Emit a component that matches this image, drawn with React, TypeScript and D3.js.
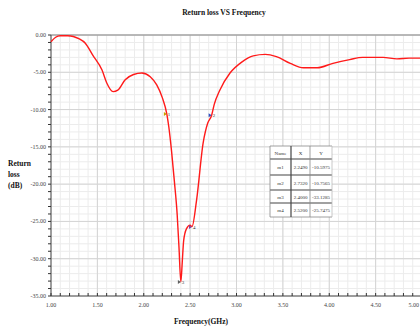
import { useEffect, useRef } from "react"
import * as d3 from "d3"

// curve (GHz, dB)
const freq = [1.0, 1.05, 1.1, 1.18, 1.24, 1.3, 1.37, 1.45, 1.55, 1.6, 1.67, 1.72, 1.8, 1.89, 1.98, 2.07, 2.14, 2.2, 2.249, 2.27, 2.3, 2.33, 2.36, 2.38, 2.4, 2.415, 2.43, 2.46, 2.5, 2.52, 2.57, 2.64, 2.69, 2.732, 2.76, 2.82, 2.93, 3.06, 3.18, 3.31, 3.43, 3.58, 3.72, 3.87, 4.04, 4.22, 4.36, 4.58, 4.73, 4.86, 5.0]
const returnLoss = [-0.9, -0.3, -0.1, -0.1, -0.2, -0.5, -1.1, -2.7, -4.7, -6.4, -7.6, -7.4, -6.0, -5.3, -5.1, -5.6, -6.7, -8.4, -10.6, -12.3, -15.6, -19.6, -24.0, -28.5, -33.1, -30.5, -27.6, -26.0, -25.5, -25.7, -22.1, -14.5, -11.8, -10.76, -9.3, -7.4, -5.1, -3.6, -2.8, -2.6, -2.9, -3.8, -4.4, -4.4, -3.8, -3.3, -3.0, -3.0, -3.2, -3.1, -3.1]

const markerNames = ["m1", "m2", "m3", "m4"]
const markerX = [2.249, 2.732, 2.4, 2.52]
const markerY = [-10.5975, -10.7565, -33.1285, -25.7475]
const markerColors = ["#c8a000", "#3050c0", "#606060", "#8040a0"]

const yTicks = [0, -5, -10, -15, -20, -25, -30, -35]
const xTicks = [1.0, 1.5, 2.0, 2.5, 3.0, 3.5, 4.0, 4.5, 5.0]

const W = 420
const H = 329
const serif = "'Liberation Serif', 'DejaVu Serif', serif"

export default function App() {
  const ref = useRef<SVGSVGElement>(null)

  useEffect(() => {
    const svg = d3.select(ref.current)
    svg.selectAll("*").remove()

    const x = d3.scaleLinear().domain([1, 5]).range([51, 422])
    const y = d3.scaleLinear().domain([0, -35]).range([35, 296])

    const g = svg.append("g")

    // minor grid
    g.selectAll(".vmin")
      .data(d3.range(1, 5.001, 0.1))
      .enter()
      .append("line")
      .attr("x1", (d) => x(d))
      .attr("x2", (d) => x(d))
      .attr("y1", y(0))
      .attr("y2", y(-35))
      .attr("stroke", "#ececec")
      .attr("stroke-width", 1)
    g.selectAll(".hmin")
      .data(d3.range(0, -35.001, -1))
      .enter()
      .append("line")
      .attr("x1", x(1))
      .attr("x2", W)
      .attr("y1", (d) => y(d))
      .attr("y2", (d) => y(d))
      .attr("stroke", "#ececec")
      .attr("stroke-width", 1)
    // major grid
    g.selectAll(".vmaj")
      .data(xTicks)
      .enter()
      .append("line")
      .attr("x1", (d) => x(d))
      .attr("x2", (d) => x(d))
      .attr("y1", y(0))
      .attr("y2", y(-35))
      .attr("stroke", "#d4d4d4")
      .attr("stroke-width", 1)
    g.selectAll(".hmaj")
      .data(yTicks)
      .enter()
      .append("line")
      .attr("x1", x(1))
      .attr("x2", W)
      .attr("y1", (d) => y(d))
      .attr("y2", (d) => y(d))
      .attr("stroke", "#d4d4d4")
      .attr("stroke-width", 1)

    // frame
    g.append("line")
      .attr("x1", x(1)).attr("x2", W)
      .attr("y1", y(0)).attr("y2", y(0))
      .attr("stroke", "#8a8a8a")
    g.append("line")
      .attr("x1", x(1)).attr("x2", W)
      .attr("y1", y(-35)).attr("y2", y(-35))
      .attr("stroke", "#555")
    g.append("line")
      .attr("x1", x(1)).attr("x2", x(1))
      .attr("y1", y(0)).attr("y2", y(-35))
      .attr("stroke", "#555")

    // axis ticks
    g.selectAll(".ytk")
      .data(d3.range(0, -35.001, -1))
      .enter()
      .append("line")
      .attr("x1", x(1) - 3)
      .attr("x2", x(1))
      .attr("y1", (d) => y(d))
      .attr("y2", (d) => y(d))
      .attr("stroke", "#333")
    g.selectAll(".xtk")
      .data(d3.range(1, 5.001, 0.1))
      .enter()
      .append("line")
      .attr("x1", (d) => x(d))
      .attr("x2", (d) => x(d))
      .attr("y1", y(-35))
      .attr("y2", y(-35) - 3)
      .attr("stroke", "#333")

    g.selectAll(".ylab")
      .data(yTicks)
      .enter()
      .append("text")
      .attr("x", x(1) - 5)
      .attr("y", (d) => y(d) + 2)
      .attr("text-anchor", "end")
      .attr("font-family", serif)
      .attr("font-size", 6)
      .attr("fill", "#444")
      .text((d) => d.toFixed(2))
    g.selectAll(".xlab")
      .data(xTicks)
      .enter()
      .append("text")
      .attr("x", (d) => Math.min(x(d), W - 1))
      .attr("y", y(-35) + 11)
      .attr("text-anchor", (d) => (x(d) > W - 6 ? "end" : "middle"))
      .attr("font-family", serif)
      .attr("font-size", 6)
      .attr("fill", "#444")
      .text((d) => d.toFixed(2))

    // curve
    const line = d3
      .line<number>()
      .x((_, i) => x(freq[i]))
      .y((d) => y(d))
      .curve(d3.curveMonotoneX)
    g.append("path")
      .datum(returnLoss)
      .attr("d", line)
      .attr("fill", "none")
      .attr("stroke", "#ff1a1a")
      .attr("stroke-width", 1.4)

    // markers
    const mk = g.selectAll(".mk").data(markerNames).enter().append("g")
    mk.append("path")
      .attr("d", (_, i) => {
        const px = x(markerX[i])
        const py = y(markerY[i])
        return `M${px},${py} l-3,-2 l0,4 z`
      })
      .attr("fill", (_, i) => markerColors[i])
    mk.append("text")
      .attr("x", (_, i) => x(markerX[i]) + 1)
      .attr("y", (_, i) => y(markerY[i]) + 2)
      .attr("font-family", serif)
      .attr("font-size", 5)
      .attr("fill", "#333")
      .text((d) => d.replace("m", ""))

    // marker table
    const tx = 270
    const colX = [270, 291, 310, 332]
    const rowY = [146, 159, 175, 190, 203, 217]
    const tbl = g.append("g")
    tbl.append("rect")
      .attr("x", tx)
      .attr("y", rowY[0])
      .attr("width", colX[3] - tx)
      .attr("height", rowY[5] - rowY[0])
      .attr("fill", "#fff")
    rowY.forEach((ry, i) => {
      tbl.append("line")
        .attr("x1", colX[0]).attr("x2", colX[3])
        .attr("y1", ry).attr("y2", ry)
        .attr("stroke", i === 0 || i === 5 ? "#888" : "#444")
        .attr("stroke-width", i === 0 || i === 5 ? 0.8 : 1.2)
    })
    colX.forEach((cx, i) => {
      tbl.append("line")
        .attr("x1", cx).attr("x2", cx)
        .attr("y1", rowY[0]).attr("y2", rowY[5])
        .attr("stroke", i === 3 ? "#bbb" : i === 1 ? "#444" : "#888")
        .attr("stroke-width", i === 1 ? 1.2 : 0.8)
    })
    const header = ["Name", "X", "Y"]
    header.forEach((h, j) => {
      tbl.append("text")
        .attr("x", (colX[j] + colX[j + 1]) / 2)
        .attr("y", (rowY[0] + rowY[1]) / 2 + 2)
        .attr("text-anchor", "middle")
        .attr("font-family", serif)
        .attr("font-size", 5)
        .attr("fill", "#333")
        .text(h)
    })
    markerNames.forEach((n, i) => {
      const cells = [n, markerX[i].toFixed(4), markerY[i].toFixed(4)]
      cells.forEach((c, j) => {
        tbl.append("text")
          .attr("x", (colX[j] + colX[j + 1]) / 2)
          .attr("y", (rowY[i + 1] + rowY[i + 2]) / 2 + 2)
          .attr("text-anchor", "middle")
          .attr("font-family", serif)
          .attr("font-size", 5)
          .attr("fill", "#333")
          .text(c)
      })
    })

    // titles
    svg.append("text")
      .attr("x", 224)
      .attr("y", 15)
      .attr("text-anchor", "middle")
      .attr("font-family", serif)
      .attr("font-size", 7.5)
      .attr("font-weight", "bold")
      .attr("fill", "#111")
      .text("Return loss VS Frequency")
    svg.append("text")
      .attr("x", 201)
      .attr("y", 324)
      .attr("text-anchor", "middle")
      .attr("font-family", serif)
      .attr("font-size", 7.5)
      .attr("font-weight", "bold")
      .attr("fill", "#111")
      .text("Frequency(GHz)")
    const yl = svg.append("text")
      .attr("font-family", serif)
      .attr("font-size", 7.5)
      .attr("font-weight", "bold")
      .attr("fill", "#111")
    ;["Return", "loss", "(dB)"].forEach((t, i) => {
      yl.append("tspan").attr("x", 8).attr("y", 166 + i * 11).text(t)
    })
  }, [])

  return (
    <svg
      ref={ref}
      width={W}
      height={H}
      style={{ position: "absolute", left: 0, top: 0, background: "#fff" }}
    />
  )
}
